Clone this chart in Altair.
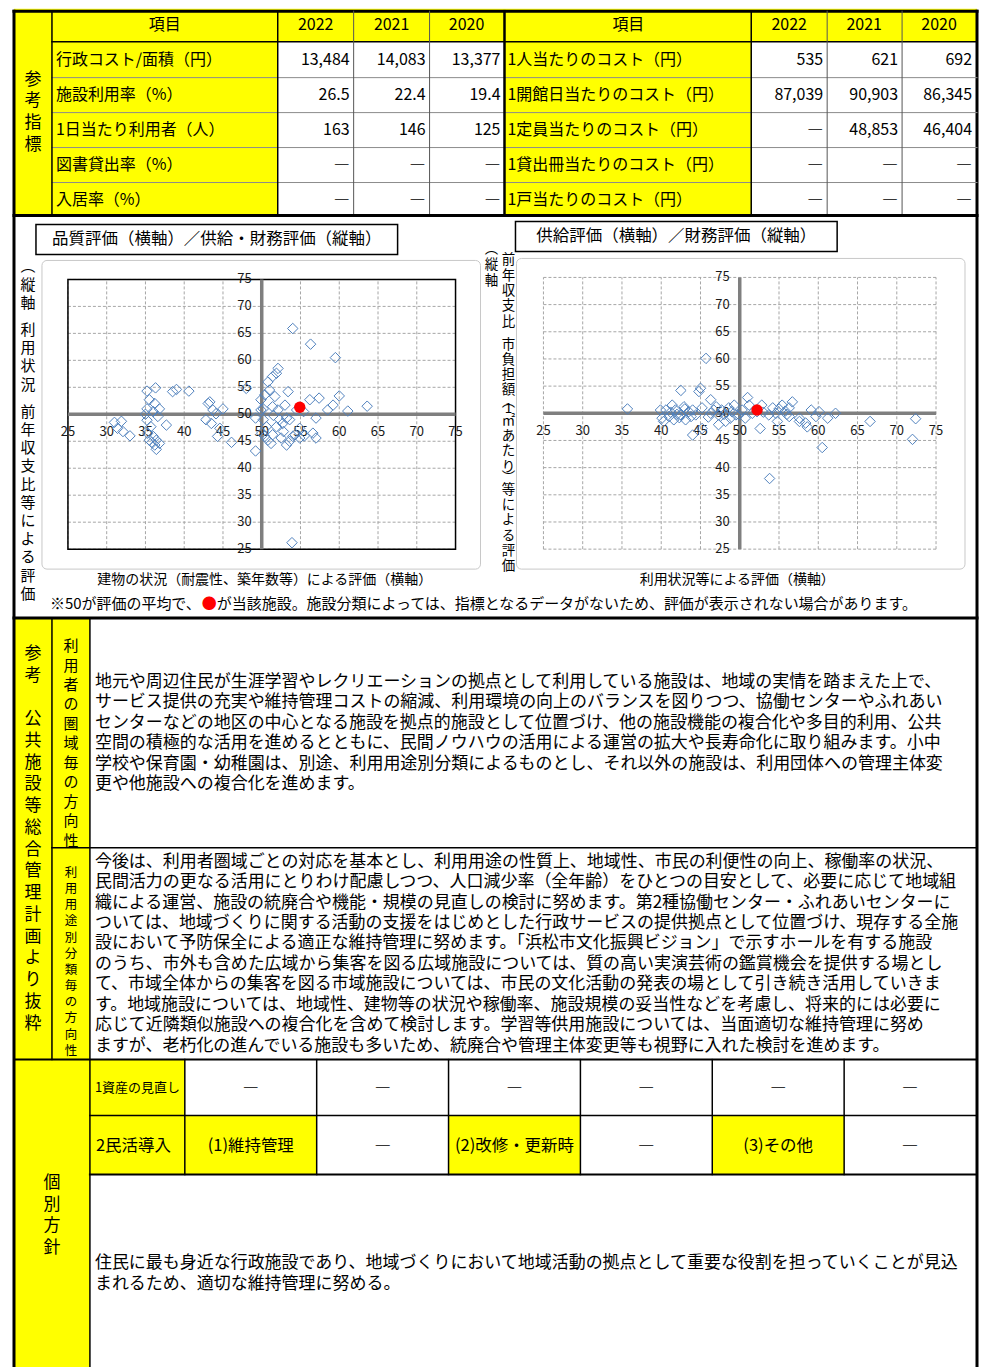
import altair as alt
import pandas as pd

# ---------------- data ----------------
years = ["2022", "2021", "2020"]
left_items = ["行政コスト/面積（円）", "施設利用率（%）", "1日当たり利用者（人）", "図書貸出率（%）", "入居率（%）"]
left_values = [["13,484", "14,083", "13,377"], ["26.5", "22.4", "19.4"], ["163", "146", "125"],
               ["―", "―", "―"], ["―", "―", "―"]]
right_items = ["1人当たりのコスト（円）", "1開館日当たりのコスト（円）", "1定員当たりのコスト（円）",
               "1貸出冊当たりのコスト（円）", "1戸当たりのコスト（円）"]
right_values = [["535", "621", "692"], ["87,039", "90,903", "86,345"], ["―", "48,853", "46,404"],
                ["―", "―", "―"], ["―", "―", "―"]]

ticks = [25, 30, 35, 40, 45, 50, 55, 60, 65, 70, 75]
tick_labels = [str(t) for t in ticks]

# quality (x) / supply-finance (y)
q_x = [54.0, 56.3, 59.5, 53.9,
       35.2, 36.3, 38.5, 39.0, 40.6,
       35.2, 36.2, 35.5, 36.0, 36.6, 35.2, 35.7, 35.3, 36.0, 36.4, 36.2, 36.4, 35.5, 37.7, 35.0, 36.8, 35.8, 36.8,
       31.0, 31.9, 31.4, 32.1, 33.0,
       43.1, 43.3, 42.8, 43.5, 44.1, 45.0, 44.3, 44.6, 46.1, 43.7, 48.0, 49.2, 49.2,
       49.9, 50.4, 50.8, 51.4, 51.9, 52.1, 51.0, 51.7, 49.9, 50.2, 50.6, 50.4, 50.8, 51.4, 51.9, 52.3, 52.7, 53.2,
       53.6, 53.2, 53.6, 54.0, 54.9, 54.9, 52.5, 52.1, 53.0, 53.4, 51.4, 50.2,
       56.2, 57.4, 57.0, 56.6, 57.0, 58.5, 59.2, 60.0, 61.1, 63.6, 55.4, 54.5,
       50.0, 51.2, 52.8, 54.3, 55.5, 51.5]
q_y = [65.9, 63.0, 60.5, 26.2,
       54.3, 54.9, 54.2, 54.6, 54.3,
       51.0, 52.0, 52.7, 50.5, 49.6, 48.9, 47.7, 46.5, 45.9, 45.2, 44.3, 43.5, 45.2, 48.0, 50.0, 51.0, 44.8, 44.6,
       48.5, 48.7, 47.4, 46.8, 46.0,
       52.0, 52.3, 49.0, 48.3, 50.1, 51.0, 45.9, 47.4, 44.8, 50.8, 54.8, 43.2, 49.3,
       52.7, 53.6, 56.0, 57.0, 57.6, 58.5, 54.5, 53.3, 50.8, 49.0, 47.7, 45.9, 45.2, 46.2, 47.7, 49.0, 48.3, 49.3,
       49.0, 44.3, 45.0, 45.9, 47.4, 45.6, 45.6, 50.8, 51.7, 54.2, 51.4, 51.0,
       52.7, 53.0, 49.3, 46.5, 45.6, 50.8, 51.7, 53.4, 50.6, 51.5, 50.5, 50.8,
       46.5, 44.6, 46.8, 46.2, 46.0, 49.8]
q_self = (54.9, 51.3)

# supply (x) / finance (y)
s_x = [35.7, 45.7, 42.5, 45.0, 44.8, 46.3, 51.0, 44.0, 47.3, 45.2, 53.8, 60.5, 72.0, 72.4, 66.6, 62.2, 61.2,
       60.1, 59.1, 59.7, 58.4, 58.6, 57.6, 56.7, 56.3, 55.8, 56.3, 54.8, 54.2, 53.7, 52.6, 52.2, 51.2, 50.3,
       49.5, 48.6, 48.8, 47.7, 47.3, 48.2, 46.3, 45.2, 44.4, 43.5, 42.9, 42.5, 41.8, 41.4, 41.0, 40.6, 40.1,
       40.3, 39.9, 41.6, 42.3, 43.1, 44.0, 46.7, 49.3, 49.9, 50.7, 52.8, 54.6, 55.4, 57.6,
       41.2, 42.0, 43.0, 43.8, 46.0, 47.0, 48.0, 49.0, 51.6, 53.0, 55.0, 56.0]
s_y = [50.8, 60.1, 54.2, 54.6, 54.0, 52.5, 52.9, 46.0, 47.9, 47.2, 38.0, 43.7, 45.2, 49.0, 48.5, 50.0, 49.1,
       50.3, 50.6, 49.4, 48.2, 47.5, 48.5, 52.1, 51.0, 50.4, 49.4, 48.5, 51.0, 49.7, 47.2, 50.3, 51.5, 50.6,
       49.7, 51.0, 49.1, 50.6, 49.7, 48.5, 50.0, 51.0, 49.7, 50.3, 51.2, 49.7, 50.6, 51.5, 49.4, 50.6, 49.1,
       48.5, 50.6, 48.8, 49.2, 48.8, 50.6, 50.6, 51.5, 49.7, 49.1, 51.5, 50.0, 51.5, 49.1,
       50.2, 49.8, 50.8, 49.4, 49.3, 51.2, 49.8, 50.3, 50.0, 50.2, 50.8, 49.8]
s_self = (52.2, 50.6)

title_q = "品質評価（横軸）／供給・財務評価（縦軸）"
title_s = "供給評価（横軸）／財務評価（縦軸）"
ylab_q = "︵縦軸　利用状況　前年収支比等による評価"
ylab_s1 = "︵縦軸"
ylab_s2 = "前年収支比　市負担額︵1㎡あたり︶等による評価"
xlab_q = "建物の状況（耐震性、築年数等）による評価（横軸）"
xlab_s = "利用状況等による評価（横軸）"
note_parts = ["※50が評価の平均で、", "●", "が当該施設。施設分類によっては、指標となるデータがないため、評価が表示されない場合があります。"]

sec_label = "参考指標"
plan_label = "参考　公共施設等総合管理計画より抜粋"
area_label = "利用者の圏域毎の方向性"
use_label = "利用用途別分類毎の方向性"
policy_label = "個別方針"

text_area = [
    "地元や周辺住民が生涯学習やレクリエーションの拠点として利用している施設は、地域の実情を踏まえた上で、",
    "サービス提供の充実や維持管理コストの縮減、利用環境の向上のバランスを図りつつ、協働センターやふれあい",
    "センターなどの地区の中心となる施設を拠点的施設として位置づけ、他の施設機能の複合化や多目的利用、公共",
    "空間の積極的な活用を進めるとともに、民間ノウハウの活用による運営の拡大や長寿命化に取り組みます。小中",
    "学校や保育園・幼稚園は、別途、利用用途別分類によるものとし、それ以外の施設は、利用団体への管理主体変",
    "更や他施設への複合化を進めます。",
]
text_use = [
    "今後は、利用者圏域ごとの対応を基本とし、利用用途の性質上、地域性、市民の利便性の向上、稼働率の状況、",
    "民間活力の更なる活用にとりわけ配慮しつつ、人口減少率（全年齢）をひとつの目安として、必要に応じて地域組",
    "織による運営、施設の統廃合や機能・規模の見直しの検討に努めます。第2種協働センター・ふれあいセンターに",
    "ついては、地域づくりに関する活動の支援をはじめとした行政サービスの提供拠点として位置づけ、現存する全施",
    "設において予防保全による適正な維持管理に努めます。「浜松市文化振興ビジョン」で示すホールを有する施設",
    "のうち、市外も含めた広域から集客を図る広域施設については、質の高い実演芸術の鑑賞機会を提供する場とし",
    "て、市域全体からの集客を図る市域施設については、市民の文化活動の発表の場として引き続き活用していきま",
    "す。地域施設については、地域性、建物等の状況や稼働率、施設規模の妥当性などを考慮し、将来的には必要に",
    "応じて近隣類似施設への複合化を含めて検討します。学習等供用施設については、当面適切な維持管理に努め",
    "ますが、老朽化の進んでいる施設も多いため、統廃合や管理主体変更等も視野に入れた検討を進めます。",
]
row1_label = "1資産の見直し"
row1_values = ["―", "―", "―", "―", "―", "―"]
row2_label = "2民活導入"
row2_cells = ["(1)維持管理", "―", "(2)改修・更新時", "―", "(3)その他", "―"]
text_policy = [
    "住民に最も身近な行政施設であり、地域づくりにおいて地域活動の拠点として重要な役割を担っていくことが見込",
    "まれるため、適切な維持管理に努める。",
]

# ---------------- layout (reference pixel space) ----------------
FONT = "Noto Sans CJK JP"
YEL = "#FFFF00"
K = "#000000"
G = "#7F7F7F"
W, H = 972, 1351
Y0 = 6


def cy(v):
    return v - Y0


LX = alt.Scale(domain=[8, 980], range=[0, W], nice=False, zero=False)
LY = alt.Scale(domain=[Y0, Y0 + H], range=[0, H], nice=False, zero=False)

cells = pd.DataFrame([
    (14, 52, 5, 212, YEL), (52, 978, 5, 38, YEL), (52, 278, 38, 212, YEL), (505, 752, 38, 212, YEL),
    (14, 90, 615, 1057, YEL), (14, 90, 1057, 1367, YEL), (90, 185, 1057, 1172, YEL),
    (185, 317, 1113, 1172, YEL), (449, 581, 1113, 1172, YEL), (713, 845, 1113, 1172, YEL),
], columns=["x", "x2", "y", "y2", "f"])

lines = [
    (14, 14, 7.5, 1367, K, 3), (978, 978, 7.5, 1367, K, 3), (14, 978, 7.5, 7.5, K, 3),
    (52, 978, 38, 38, K, 1.5),
]
for yy in [74, 109, 144, 179]:
    lines.append((52, 978, yy, yy, "#8C8C8C", 1))
for xx, c, w in [(52, K, 1.5), (278, K, 1.5), (354, "#555555", 1), (430, "#555555", 1), (505, K, 2.5),
                 (752, K, 1.5), (828, "#555555", 1), (903, "#555555", 1)]:
    lines.append((xx, xx, 7.5, 212, c, w))
lines += [
    (14, 978, 212, 212, K, 3), (14, 978, 615, 615, K, 3),
    (52, 52, 615, 1057, K, 1.5), (90, 90, 615, 1367, K, 1.5), (52, 978, 845, 845, K, 1.5),
    (14, 978, 1057, 1057, K, 2), (90, 978, 1113, 1113, K, 1.5), (90, 978, 1172, 1172, K, 2),
]
for xx in [185, 317, 449, 581, 713, 845]:
    lines.append((xx, xx, 1057, 1172, K, 1.5))
lines_df = pd.DataFrame(lines, columns=["x", "x2", "y", "y2", "c", "w"])

areas = pd.DataFrame([(42, 481, 257, 566), (517, 966, 255, 566)], columns=["x", "x2", "y", "y2"])
tboxes = pd.DataFrame([(36, 398, 221, 251), (516, 838, 218, 248)], columns=["x", "x2", "y", "y2"])

T = {"left": [], "center": [], "right": []}


def put(align, x, y, t, s, c=K):
    T[align].append((x, y, t, s, c))


def vput(chars, x, y0, step, s, space_w=1.0, half=False):
    pos = y0
    prev = None
    for ch in chars:
        w = 1.0
        if ch == "　":
            w = space_w
        elif half and ch in "︵︶1":
            w = 0.5
        if prev is not None:
            pos += step * (prev + w) / 2
        if ch != "　":
            put("center", x, pos, ch, s)
        prev = w


# top table
col_c = [316, 392, 467]
col_cr = [790, 865, 940]
put("center", 165, 21, "項目", 16)
put("center", 629, 21, "項目", 16)
for i, yv in enumerate(years):
    put("center", col_c[i], 21, yv, 16)
    put("center", col_cr[i], 21, yv, 16)
row_y = [56, 91.5, 126.5, 161.5, 196]
val_r = [350, 426, 501]
val_rr = [824, 899, 973]
for r in range(5):
    put("left", 56, row_y[r], left_items[r], 16)
    put("left", 508, row_y[r], right_items[r], 16)
    for j in range(3):
        put("right", val_r[j], row_y[r], left_values[r][j], 16)
        put("right", val_rr[j], row_y[r], right_values[r][j], 16)
vput(sec_label, 33, 76, 21.7, 17)

# scatter section texts
put("center", 217, 236, title_q, 16.5)
put("center", 677, 233, title_s, 16.5)
vput(ylab_q, 28, 263, 18.2, 15, space_w=0.5)
vput(ylab_s1, 492, 246, 16, 13.5)
vput(ylab_s2, 509, 257, 15.3, 13.5, space_w=0.5, half=True)
put("center", 265, 577, xlab_q, 14)
put("center", 738, 577, xlab_s, 14)
put("left", 50, 601, note_parts[0], 15)
put("left", 202, 601, note_parts[1], 15, "#FF0000")
put("left", 217, 601, note_parts[2], 15)

# plan section
vput(plan_label, 33, 651, 21.76, 17)
vput(area_label, 71, 643, 19.5, 15)
vput(use_label, 71, 870, 16.2, 12.5)
for i, ln in enumerate(text_area):
    put("left", 95, 679 + 20.5 * i, ln, 17)
for i, ln in enumerate(text_use):
    put("left", 95, 859 + 20.44 * i, ln, 17)

# policy section
vput(policy_label, 52, 1181, 21.5, 17)
put("left", 95, 1085, row1_label, 13)
cell_c = [251, 383, 515, 647, 779, 911]
for i, v in enumerate(row1_values):
    put("center", cell_c[i], 1085, v, 16)
put("left", 96, 1143, row2_label, 16.5)
for i, v in enumerate(row2_cells):
    put("center", cell_c[i], 1143, v, 16.5)
for i, ln in enumerate(text_policy):
    put("left", 95, 1261 + 20.4 * i, ln, 17)


def XY(xf="x:Q", yf="y:Q"):
    return dict(x=alt.X(xf, scale=LX, axis=None), y=alt.Y(yf, scale=LY, axis=None))


layers = []
layers.append(alt.Chart(cells).mark_rect().encode(
    **XY(), x2="x2:Q", y2="y2:Q", fill=alt.Fill("f:N", scale=None)))
layers.append(alt.Chart(areas).mark_rect(fill="white", stroke="#C8C8C8", strokeWidth=1, cornerRadius=5).encode(
    **XY(), x2="x2:Q", y2="y2:Q"))
layers.append(alt.Chart(tboxes).mark_rect(fill="white", stroke=K, strokeWidth=1.5).encode(
    **XY(), x2="x2:Q", y2="y2:Q"))
layers.append(alt.Chart(lines_df).mark_rule(strokeCap="square").encode(
    **XY(), x2="x2:Q", y2="y2:Q", color=alt.Color("c:N", scale=None), size=alt.Size("w:Q", scale=None)))


def scatter(xs, ys, me, px, py, solid_border):
    SX = alt.Scale(domain=[25, 75], range=[px[0] - 8, px[1] - 8], nice=False, zero=False)
    SY = alt.Scale(domain=[25, 75], range=[cy(py[0]), cy(py[1])], nice=False, zero=False)

    def enc(xf, yf):
        return dict(x=alt.X(xf, scale=SX, axis=None), y=alt.Y(yf, scale=SY, axis=None))

    g = pd.DataFrame({"v": ticks, "lo": [25] * len(ticks), "hi": [75] * len(ticks), "mid": [50] * len(ticks),
                      "lab": tick_labels})
    out = []
    out.append(alt.Chart(g).mark_rule(strokeDash=[3, 2], color="#A6A6A6", strokeWidth=1).encode(
        **enc("v:Q", "lo:Q"), y2="hi:Q"))
    out.append(alt.Chart(g).mark_rule(strokeDash=[3, 2], color="#A6A6A6", strokeWidth=1).encode(
        **enc("lo:Q", "v:Q"), x2="hi:Q"))
    one = pd.DataFrame({"lo": [25], "hi": [75], "mid": [50]})
    if solid_border:
        out.append(alt.Chart(one).mark_rect(fillOpacity=0, stroke=K, strokeWidth=1.5).encode(
            **enc("lo:Q", "lo:Q"), x2="hi:Q", y2="hi:Q"))
    out.append(alt.Chart(one).mark_rule(color=G, strokeWidth=3.5).encode(**enc("mid:Q", "lo:Q"), y2="hi:Q"))
    out.append(alt.Chart(one).mark_rule(color=G, strokeWidth=3.5).encode(**enc("lo:Q", "mid:Q"), x2="hi:Q"))
    out.append(alt.Chart(g).mark_text(align="center", baseline="middle", dy=18, font=FONT, fontSize=13,
                                      color="#1A1A1A").encode(**enc("v:Q", "mid:Q"), text="lab:N"))
    out.append(alt.Chart(g).mark_text(align="right", baseline="middle", dx=-10, font=FONT, fontSize=13,
                                      color="#1A1A1A").encode(**enc("mid:Q", "v:Q"), text="lab:N"))
    pts = pd.DataFrame({"x": xs, "y": ys})
    out.append(alt.Chart(pts).mark_point(shape="diamond", filled=False, color="#4F81BD", size=110,
                                         strokeWidth=1, opacity=1).encode(**enc("x:Q", "y:Q")))
    me_df = pd.DataFrame({"x": [me[0]], "y": [me[1]]})
    out.append(alt.Chart(me_df).mark_circle(color="#FF0000", size=130, opacity=1).encode(**enc("x:Q", "y:Q")))
    return out


layers += scatter(q_x, q_y, q_self, (68, 456), (546, 276), True)
layers += scatter(s_x, s_y, s_self, (544, 937), (546, 274), False)

for align in ["left", "center", "right"]:
    df = pd.DataFrame(T[align], columns=["x", "y", "t", "s", "c"])
    layers.append(alt.Chart(df).mark_text(align=align, baseline="middle", font=FONT).encode(
        **XY(), text="t:N", size=alt.Size("s:Q", scale=None), color=alt.Color("c:N", scale=None)))

chart = alt.layer(*layers).resolve_scale(x="independent", y="independent").properties(
    width=W, height=H, padding=0, background="white"
).configure_view(stroke=None)

chart.save("out.html", embed_options={"renderer": "svg", "actions": False})
